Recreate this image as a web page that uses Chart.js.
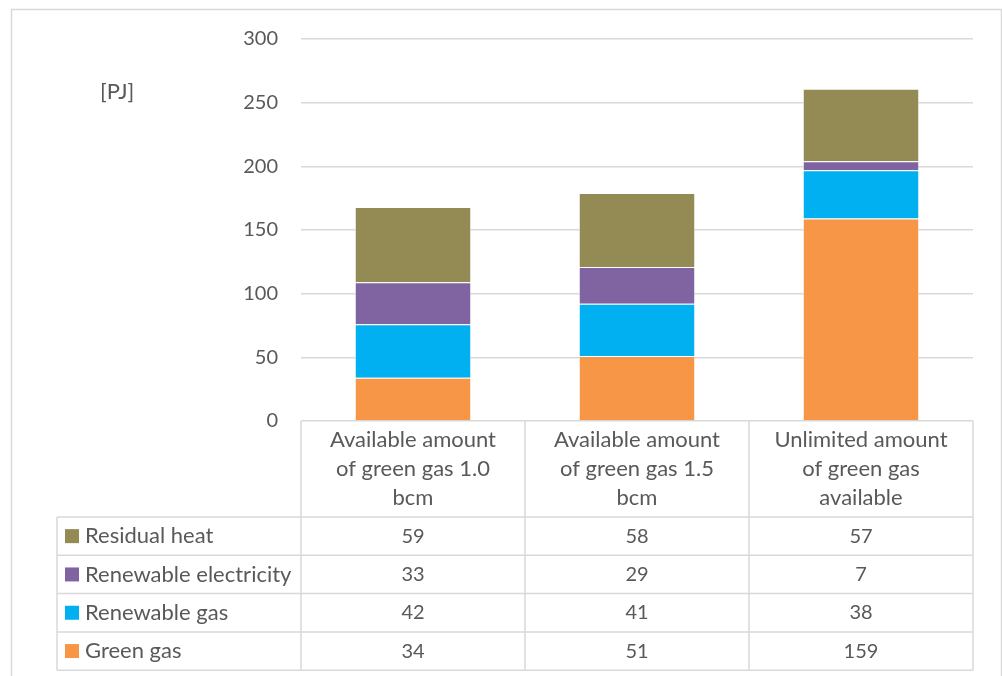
<!DOCTYPE html>
<html>
<head>
<meta charset="utf-8">
<script src="https://cdn.jsdelivr.net/npm/chart.js@4/dist/chart.umd.min.js"></script>
<style>
  html, body { margin: 0; padding: 0; background: #fff; }
  #wrap { width: 1002px; height: 676px; position: relative; }
</style>
</head>
<body>
<div id="wrap"><canvas id="myChart" width="1002" height="676"></canvas></div>
<script>
// chart data
const categories = [
  ["Available amount", "of green gas 1.0", "bcm"],
  ["Available amount", "of green gas 1.5", "bcm"],
  ["Unlimited amount", "of green gas", "available"]
];
const seriesNames = ["Green gas", "Renewable gas", "Renewable electricity", "Residual heat"];
const greenGas = [34, 51, 159];
const renewableGas = [42, 41, 38];
const renewableElectricity = [33, 29, 7];
const residualHeat = [59, 58, 57];
const seriesColors = ["#F79646", "#00B0F0", "#8064A2", "#948A54"];
const unitLabel = "[PJ]";

const allValues = [greenGas, renewableGas, renewableElectricity, residualHeat];
const gridColor = "#d9d9d9";
const textColor = "#595959";

Chart.defaults.font.family = "Lato, 'Open Sans', sans-serif";
Chart.defaults.font.size = 20;
Chart.defaults.color = textColor;

// draws the excel-like data table below the plot + frame + unit label
const dataTable = {
  id: "dataTable",
  afterDraw(chart) {
    const ctx = chart.ctx;
    const area = chart.chartArea;
    const xs = chart.scales.x;
    const colW = xs.width / categories.length;
    const headerH = 96;
    const rowH = 38.3;
    const tableLeft = 57;
    const top = area.bottom;
    const rowsTop = top + headerH;
    const bottom = rowsTop + rowH * seriesNames.length;
    const textFont = "22px Lato";
    const numFont = "20px Lato";

    ctx.save();
    // outer frame
    ctx.strokeStyle = gridColor;
    ctx.lineWidth = 1.5;
    ctx.strokeRect(11.5, 9.5, 990, 720);

    // unit label
    ctx.fillStyle = textColor;
    ctx.font = textFont;
    ctx.textAlign = "left";
    ctx.textBaseline = "middle";
    ctx.fillText(unitLabel, 100, 92);

    // grid of the table
    ctx.beginPath();
    for (let i = 0; i <= categories.length; i++) {
      const x = area.left + colW * i;
      ctx.moveTo(x, top);
      ctx.lineTo(x, bottom);
    }
    ctx.moveTo(tableLeft, rowsTop);
    ctx.lineTo(tableLeft, bottom);
    for (let r = 0; r <= seriesNames.length; r++) {
      const y = rowsTop + rowH * r;
      ctx.moveTo(tableLeft, y);
      ctx.lineTo(area.right, y);
    }
    ctx.stroke();

    // header text
    ctx.textAlign = "center";
    categories.forEach((lines, i) => {
      const cx = xs.getPixelForValue(i);
      lines.forEach((line, j) => {
        ctx.fillText(line, cx, top + 19 + j * 29);
      });
    });

    // rows, top row = last dataset
    for (let r = 0; r < seriesNames.length; r++) {
      const d = seriesNames.length - 1 - r;
      const cy = rowsTop + rowH * r + rowH / 2;
      ctx.fillStyle = seriesColors[d];
      ctx.fillRect(65, cy - 7, 14, 14);
      ctx.fillStyle = textColor;
      ctx.textAlign = "left";
      ctx.font = textFont;
      ctx.fillText(seriesNames[d], 85, cy);
      ctx.textAlign = "center";
      ctx.font = numFont;
      allValues[d].forEach((v, i) => {
        ctx.fillText(String(v), xs.getPixelForValue(i), cy);
      });
    }
    ctx.restore();
  }
};

new Chart(document.getElementById("myChart"), {
  type: "bar",
  data: {
    labels: categories.map(c => c.join(" ")),
    datasets: seriesNames.map((name, i) => ({
      label: name,
      data: allValues[i],
      backgroundColor: seriesColors[i],
      borderColor: "rgba(255,255,255,0.6)",
      borderWidth: 1,
      categoryPercentage: 1,
      barPercentage: 0.52
    }))
  },
  options: {
    responsive: false,
    animation: false,
    layout: { padding: { left: 0, top: 39, right: 29, bottom: 255 } },
    plugins: {
      legend: { display: false },
      tooltip: { enabled: false }
    },
    scales: {
      x: { stacked: true, display: false },
      y: {
        stacked: true,
        min: 0,
        max: 300,
        afterFit(scale) { scale.width = 301; },
        border: { display: false },
        grid: { color: gridColor, lineWidth: 1.5, drawTicks: false },
        ticks: { stepSize: 50, padding: 23, color: textColor, font: { size: 20 } }
      }
    }
  },
  plugins: [dataTable]
});
</script>
</body>
</html>
